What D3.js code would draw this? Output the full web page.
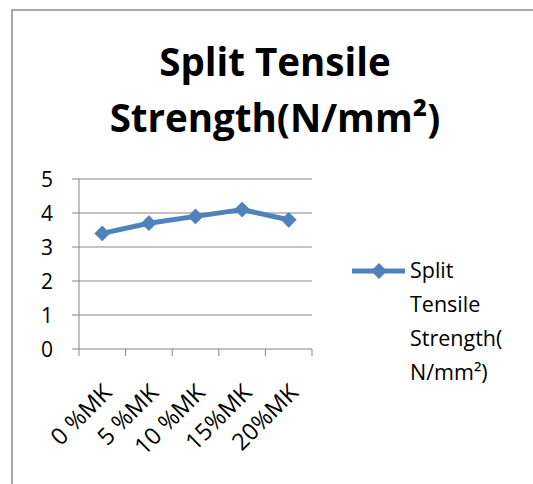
<!DOCTYPE html>
<html><head><meta charset="utf-8">
<script src="https://cdn.jsdelivr.net/npm/d3@7"></script>
<style>body{margin:0;background:#fff;} text{font-family:"Open Sans","Noto Sans",sans-serif;}</style>
</head><body>
<svg id="c" width="533" height="484"></svg>
<script>
const categories = ["0 %MK","5 %MK","10 %MK","15%MK","20%MK"];
const values = [3.4, 3.7, 3.9, 4.1, 3.8];
const yTicks = [0,1,2,3,4,5];
const seriesName = "Split Tensile Strength(N/mm²)";
const titleLines = ["Split Tensile","Strength(N/mm²)"];
const legendLines = ["Split","Tensile","Strength(","N/mm²)"];

const svg = d3.select("#c");
const color = "#4F81BD", grid = "#868686";

// chart border
svg.append("rect").attr("x",12).attr("y",10).attr("width",540).attr("height",490)
  .attr("fill","none").attr("stroke","#8c8c8c").attr("stroke-width",1.5);

// title
titleLines.forEach((t,i)=>{
  svg.append("text").attr("x",275).attr("y",76+i*56).attr("text-anchor","middle")
    .attr("font-size",38.5).attr("font-weight","bold").attr("fill","#000").text(t);
});

const x = d3.scaleBand().domain(categories).range([79,312]);
const y = d3.scaleLinear().domain([0,5]).range([349,179]);

// gridlines
svg.append("g").selectAll("line").data(yTicks).join("line")
  .attr("x1",72).attr("x2",312).attr("y1",d=>y(d)).attr("y2",d=>y(d))
  .attr("stroke",grid).attr("stroke-width",1);
// y axis line
svg.append("line").attr("x1",79).attr("x2",79).attr("y1",y(5)).attr("y2",y(0)).attr("stroke",grid);
// x ticks
const xt = [...categories.map(c=>x(c)), x.range()[1]];
svg.append("g").selectAll("line").data(xt).join("line")
  .attr("x1",d=>d).attr("x2",d=>d).attr("y1",y(0)).attr("y2",y(0)+7).attr("stroke",grid);

// y labels
svg.append("g").selectAll("text").data(yTicks).join("text")
  .attr("x",53).attr("y",d=>y(d)+7.5).attr("text-anchor","end").attr("font-size",21).attr("fill","#000").text(d=>d);

// x labels
svg.append("g").selectAll("text").data(categories).join("text")
  .attr("text-anchor","end").attr("font-size",23.5).attr("fill","#000")
  .attr("transform",d=>`translate(${x(d)+x.bandwidth()/2+11},${y(0)+45}) rotate(-45)`).text(d=>d);

// line
const line = d3.line().x((d,i)=>x(categories[i])+x.bandwidth()/2).y(d=>y(d));
svg.append("path").datum(values).attr("d",line).attr("fill","none").attr("stroke",color)
  .attr("stroke-width",5).attr("stroke-linejoin","round");
const diamond = d3.symbol().type(d3.symbolDiamond2).size(160);
svg.append("g").selectAll("path").data(values).join("path")
  .attr("d",diamond).attr("fill",color)
  .attr("transform",(d,i)=>`translate(${x(categories[i])+x.bandwidth()/2},${y(d)})`);

// legend
svg.append("line").attr("x1",352).attr("x2",405).attr("y1",271).attr("y2",271).attr("stroke",color).attr("stroke-width",5);
svg.append("path").attr("d",diamond).attr("fill",color).attr("transform","translate(379,271)");
legendLines.forEach((t,i)=>{
  svg.append("text").attr("x",410).attr("y",278+i*34).attr("font-size",21.5).attr("fill","#000").text(t);
});
</script>
</body></html>
